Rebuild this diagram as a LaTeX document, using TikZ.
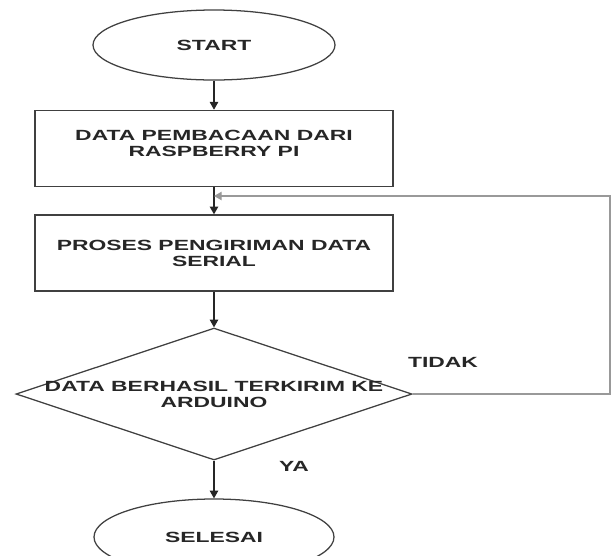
\documentclass[tikz,border=0pt]{standalone}
\usepackage{fontspec}
\newfontfamily\flowfont[FakeStretch=1.55]{Liberation Sans}
\usetikzlibrary{shapes.geometric,arrows.meta}

\begin{document}
\begin{tikzpicture}
\tikzstyle{every node}=[font=\flowfont\bfseries\fontsize{10.5}{11.5}\selectfont, text=black!85]
\tikzstyle{terminal}=[ellipse, draw=black!75, line width=0.9pt, minimum width=6.05cm, minimum height=1.75cm]
\tikzstyle{process}=[rectangle, draw=black!75, line width=1pt, minimum width=8.95cm, minimum height=1.9cm, align=center]
\tikzstyle{decision}=[diamond, draw=black!75, line width=0.9pt, minimum width=9.9cm, minimum height=3.3cm, inner sep=0pt]
\tikzstyle{flow}=[draw=black!85, line width=0.9pt, -{Triangle[length=5.5pt,width=6pt]}]
\tikzstyle{back}=[draw=black!40, line width=1pt, -{Triangle[length=5.5pt,width=6pt]}]
\useasboundingbox (0,0) rectangle (15.325,-13.875);

\node[terminal] (start) at (5.35,-1.125) {START};
\node[process, text depth=7pt] (read) at (5.35,-3.71) {DATA PEMBACAAN DARI\\RASPBERRY PI};
\node[process] (send) at (5.35,-6.325) {PROSES PENGIRIMAN DATA\\SERIAL};
\node[decision] (check) at (5.35,-9.85) {};
\node[align=center] (checktext) at (check.center) {DATA BERHASIL TERKIRIM KE\\ARDUINO};
\node[terminal, minimum width=6cm, minimum height=1.9cm] (stop) at (5.35,-13.425) {SELESAI};
\node (no) at (11.075,-9.05) {TIDAK};
\node (yes) at (7.35,-11.65) {YA};
\coordinate (join) at (5.35,-4.9);
\coordinate (corner) at (15.25,-4.9);

\draw[flow] (start)--(read);
\draw[flow] (read)--(send);
\draw[flow] (send)--(check);
\draw[flow] (check)--(stop);
\draw[back] (check.east) -| (corner) -- (join);

\end{tikzpicture}
\end{document}
